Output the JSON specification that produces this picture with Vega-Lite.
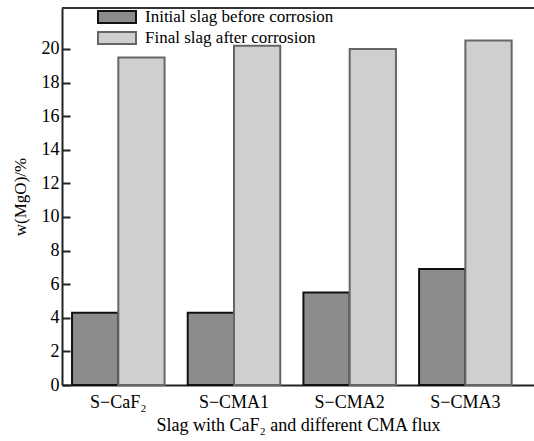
{
  "$schema": "https://vega.github.io/schema/vega-lite/v6.json",
  "width": 472,
  "height": 377,
  "autosize": {"type": "none"},
  "padding": {"left": 62, "top": 8, "right": 0, "bottom": 56},
  "background": "white",
  "config": {
    "font": "Liberation Serif",
    "view": {"stroke": null},
    "axis": {
      "labelFont": "Liberation Serif",
      "titleFont": "Liberation Serif",
      "labelColor": "black",
      "titleColor": "black",
      "titleFontWeight": "normal",
      "domainColor": "#222",
      "domainWidth": 2,
      "tickColor": "#222",
      "tickWidth": 2,
      "grid": false
    },
    "legend": {
      "labelFont": "Liberation Serif",
      "labelColor": "black"
    }
  },
  "data": {
    "values": [
      {"slag": "S−CaF₂", "stage": "Initial slag before corrosion", "mgo": 4.3},
      {"slag": "S−CaF₂", "stage": "Final slag after corrosion", "mgo": 19.5},
      {"slag": "S−CMA1", "stage": "Initial slag before corrosion", "mgo": 4.3},
      {"slag": "S−CMA1", "stage": "Final slag after corrosion", "mgo": 20.2},
      {"slag": "S−CMA2", "stage": "Initial slag before corrosion", "mgo": 5.5},
      {"slag": "S−CMA2", "stage": "Final slag after corrosion", "mgo": 20.0},
      {"slag": "S−CMA3", "stage": "Initial slag before corrosion", "mgo": 6.9},
      {"slag": "S−CMA3", "stage": "Final slag after corrosion", "mgo": 20.5}
    ]
  },
  "layer": [
    {
      "mark": {"type": "bar", "strokeWidth": 2},
      "encoding": {
        "x": {
          "field": "slag",
          "type": "nominal",
          "sort": ["S−CaF₂", "S−CMA1", "S−CMA2", "S−CMA3"],
          "scale": {"paddingInner": 0.2, "paddingOuter": 0.14, "align": 0.31},
          "axis": {
            "title": "Slag with CaF₂ and different CMA flux",
            "labelAngle": 0,
            "ticks": false,
            "labelFontSize": 18,
            "titleFontSize": 18,
            "labelPadding": 8,
            "titlePadding": 5
          }
        },
        "xOffset": {
          "field": "stage",
          "type": "nominal",
          "sort": ["Initial slag before corrosion", "Final slag after corrosion"],
          "scale": {"paddingInner": 0, "paddingOuter": 0}
        },
        "y": {
          "field": "mgo",
          "type": "quantitative",
          "scale": {"domain": [0, 22.44], "nice": false},
          "axis": {
            "title": "w(MgO)/%",
            "values": [0, 2, 4, 6, 8, 10, 12, 14, 16, 18, 20],
            "labelOverlap": false,
            "tickSize": -8,
            "labelPadding": 11,
            "labelFontSize": 18,
            "titleFontSize": 17,
            "titlePadding": 12
          }
        },
        "fill": {
          "field": "stage",
          "type": "nominal",
          "scale": {
            "domain": ["Initial slag before corrosion", "Final slag after corrosion"],
            "range": ["#8c8c8c", "#cfcfcf"]
          },
          "legend": {
            "title": null,
            "orient": "none",
            "legendX": 44.5,
            "legendY": -1.5,
            "padding": 0,
            "symbolType": "M-2,-0.63H2V0.63H-2Z",
            "symbolSize": 361,
            "symbolStrokeWidth": 2,
            "labelFontSize": 17,
            "labelOffset": 17.5,
            "labelLimit": 400,
            "rowPadding": 0
          }
        },
        "stroke": {
          "field": "stage",
          "type": "nominal",
          "scale": {
            "domain": ["Initial slag before corrosion", "Final slag after corrosion"],
            "range": ["#111111", "#666666"]
          }
        }
      }
    },
    {
      "mark": {"type": "rule", "color": "#333", "strokeWidth": 2},
      "encoding": {
        "y": {
          "datum": 22.44,
          "type": "quantitative",
          "axis": {
            "title": "w(MgO)/%",
            "values": [0, 2, 4, 6, 8, 10, 12, 14, 16, 18, 20],
            "labelOverlap": false,
            "tickSize": -8,
            "labelPadding": 11,
            "labelFontSize": 18,
            "titleFontSize": 17,
            "titlePadding": 12
          }
        }
      }
    }
  ]
}
